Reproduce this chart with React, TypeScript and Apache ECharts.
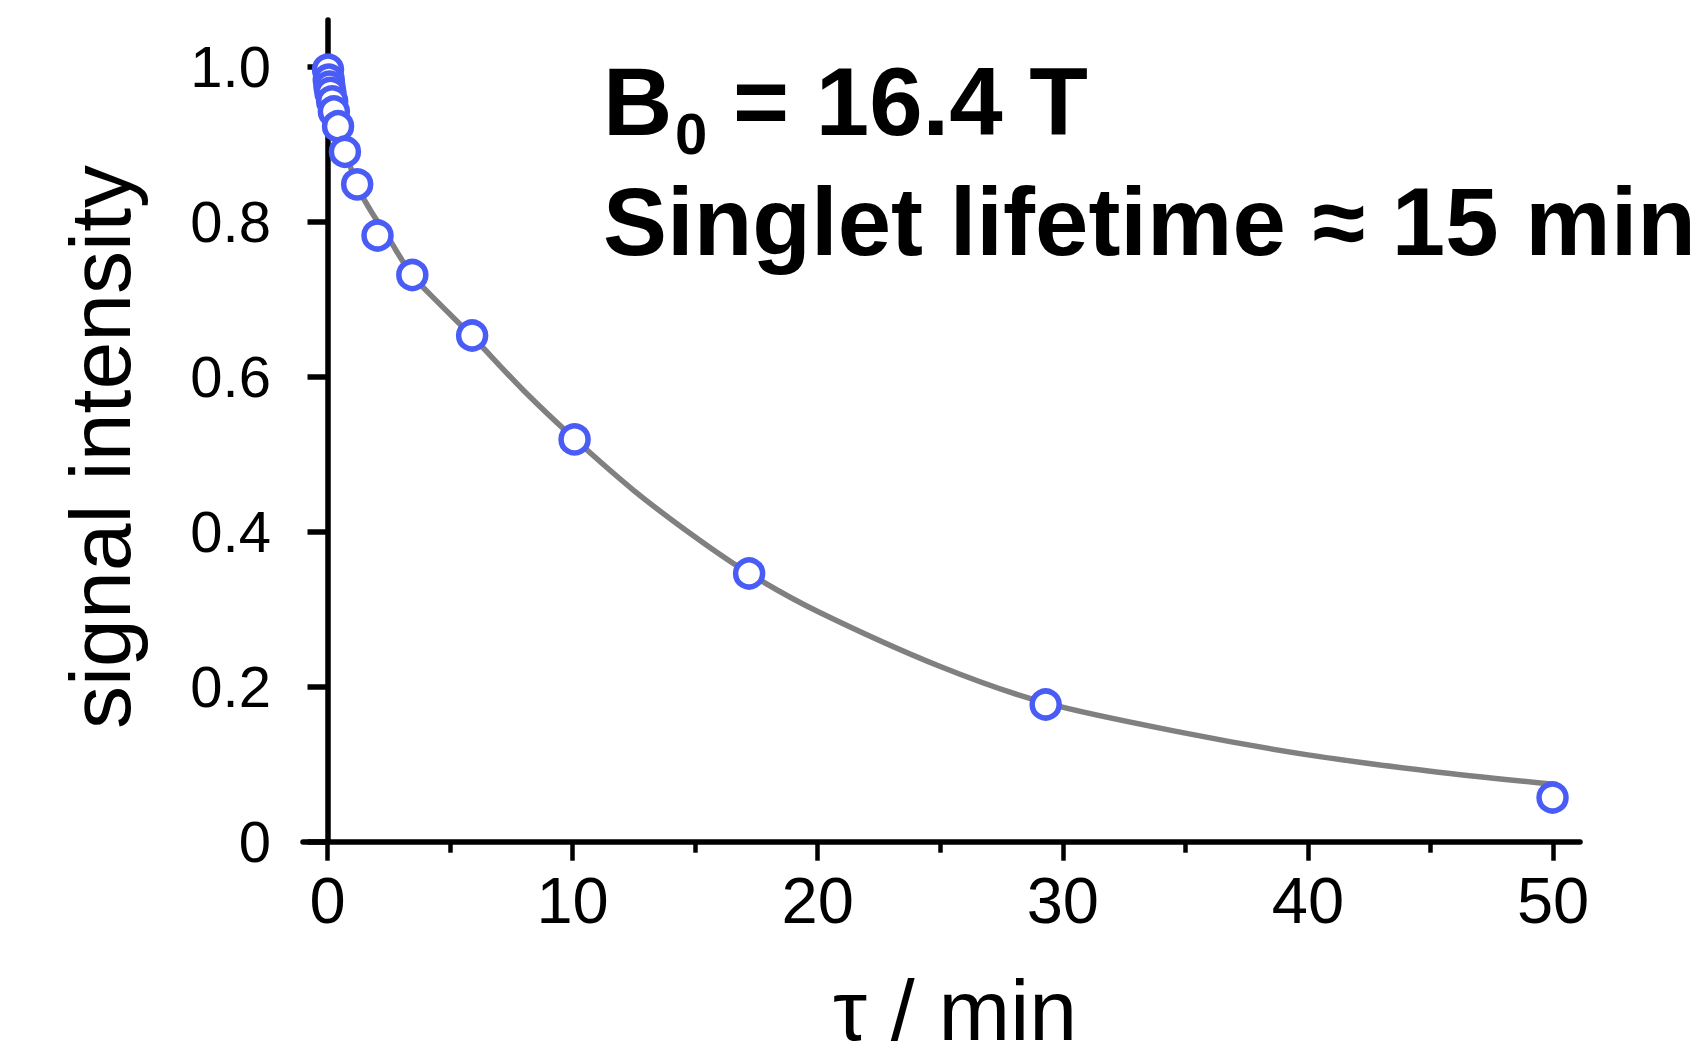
import React, { useEffect, useRef } from 'react';
import * as echarts from 'echarts';

// Measured data points (tau in min, normalised signal intensity)
const timePoints = [0.02, 0.05, 0.08, 0.12, 0.19, 0.26, 0.43, 0.71, 1.21, 2.04, 3.46, 5.9, 10.08, 17.2, 29.3, 49.98];
const signalPoints = [0.996, 0.983, 0.974, 0.966, 0.955, 0.942, 0.923, 0.89, 0.848, 0.782, 0.731, 0.653, 0.519, 0.346, 0.177, 0.057];

// Fitted decay curve
const fitTimes = [0, 0.1, 0.25, 0.45, 0.7, 1.0, 1.3, 1.8, 2.5, 3.45, 4.5, 5.9, 8, 10, 12.5, 15, 17.2, 20, 25, 29.3, 35, 40, 45, 50];
const fitValues = [0.998, 0.975, 0.95, 0.922, 0.892, 0.865, 0.84, 0.812, 0.778, 0.731, 0.696, 0.652, 0.582, 0.522, 0.453, 0.393, 0.346, 0.297, 0.226, 0.179, 0.14, 0.112, 0.091, 0.074];

// Tick values
const yTickValues = [0, 0.2, 0.4, 0.6, 0.8, 1.0];
const xMajorTicks = [0, 10, 20, 30, 40, 50];
const xMinorTicks = [5, 15, 25, 35, 45];

// Text
const yAxisTitle = 'signal intensity';
const xAxisTitle = 'τ / min';
const titleB = 'B';
const titleSub = '0';
const titleRest = '= 16.4 T';
const titleLine2 = 'Singlet lifetime ≈ 15 min';

const FONT = "'Liberation Sans', Arial, Helvetica, sans-serif";

export default function App() {
  const ref = useRef<HTMLDivElement>(null);

  useEffect(() => {
    if (!ref.current) return;
    const chart = echarts.init(ref.current, undefined, { renderer: 'svg' });

    const txt = (text: string, x: number, y: number, fontSize: number, bold: boolean, extra: any = {}) => ({
      type: 'text',
      x,
      y,
      ...extra,
      style: {
        text,
        fontSize,
        fontWeight: bold ? 'bold' : 'normal',
        fontFamily: FONT,
        fill: '#000',
        align: extra.align || 'left',
        textAlign: extra.align || 'left',
        verticalAlign: 'middle',
        textVerticalAlign: 'middle',
      },
    });

    const option: any = {
      animation: false,
      backgroundColor: '#ffffff',
      grid: { left: 303, top: 20, width: 1277, height: 821.7, containLabel: false },
      xAxis: [
        {
          type: 'value',
          min: -1,
          max: 51.1,
          position: 'bottom',
          axisLine: { show: true, onZero: false, lineStyle: { color: '#000', width: 5.5, cap: 'round' } },
          axisTick: { show: true, customValues: xMajorTicks, length: 19, inside: false, lineStyle: { color: '#000', width: 4.5 } },
          axisLabel: { show: true, customValues: xMajorTicks, fontSize: 65, color: '#000', fontFamily: FONT, margin: 26 },
          splitLine: { show: false },
        },
        {
          type: 'value',
          min: -1,
          max: 51.1,
          position: 'bottom',
          axisLine: { show: false },
          axisTick: { show: true, customValues: xMinorTicks, length: 11, inside: false, lineStyle: { color: '#000', width: 4.5 } },
          axisLabel: { show: false },
          splitLine: { show: false },
        },
      ],
      yAxis: {
        type: 'value',
        min: 0,
        max: 1.06,
        position: 'left',
        axisLine: { show: true, lineStyle: { color: '#000', width: 5.5 } },
        axisTick: { show: true, customValues: yTickValues, length: 20, lineStyle: { color: '#000', width: 5.5 } },
        axisLabel: {
          show: true,
          customValues: yTickValues,
          formatter: (v: number) => (v === 0 ? '0' : v.toFixed(1)),
          fontSize: 58,
          color: '#000',
          fontFamily: FONT,
          margin: 32,
        },
        splitLine: { show: false },
      },
      series: [
        {
          type: 'line',
          data: fitTimes.map((t, i) => [t, fitValues[i]]),
          symbol: 'none',
          showSymbol: false,
          smooth: 0.3,
          lineStyle: { color: '#808080', width: 5.5 },
          z: 2,
          silent: true,
        },
        {
          type: 'scatter',
          data: timePoints.map((t, i) => [t, signalPoints[i]]),
          symbol: 'circle',
          symbolSize: 27,
          itemStyle: { color: '#ffffff', borderColor: '#4a5cf6', borderWidth: 5.5, opacity: 1 },
          z: 3,
        },
      ],
      graphic: [
        txt(titleB, 603, 101.7, 96, true),
        txt(titleSub, 675, 133, 58, true),
        txt(titleRest, 733, 101.7, 96, true),
        txt(titleLine2, 603, 221.7, 96, true),
        txt(yAxisTitle, 100, 447, 86, false, { rotation: Math.PI / 2, align: 'center' }),
        txt(xAxisTitle, 955, 1010, 86, false, { align: 'center' }),
      ],
    };

    chart.setOption(option);
    return () => chart.dispose();
  }, []);

  return (
    <div
      ref={ref}
      style={{ position: 'absolute', left: 0, top: 0, width: 1700, height: 1058, background: '#fff' }}
    />
  );
}
